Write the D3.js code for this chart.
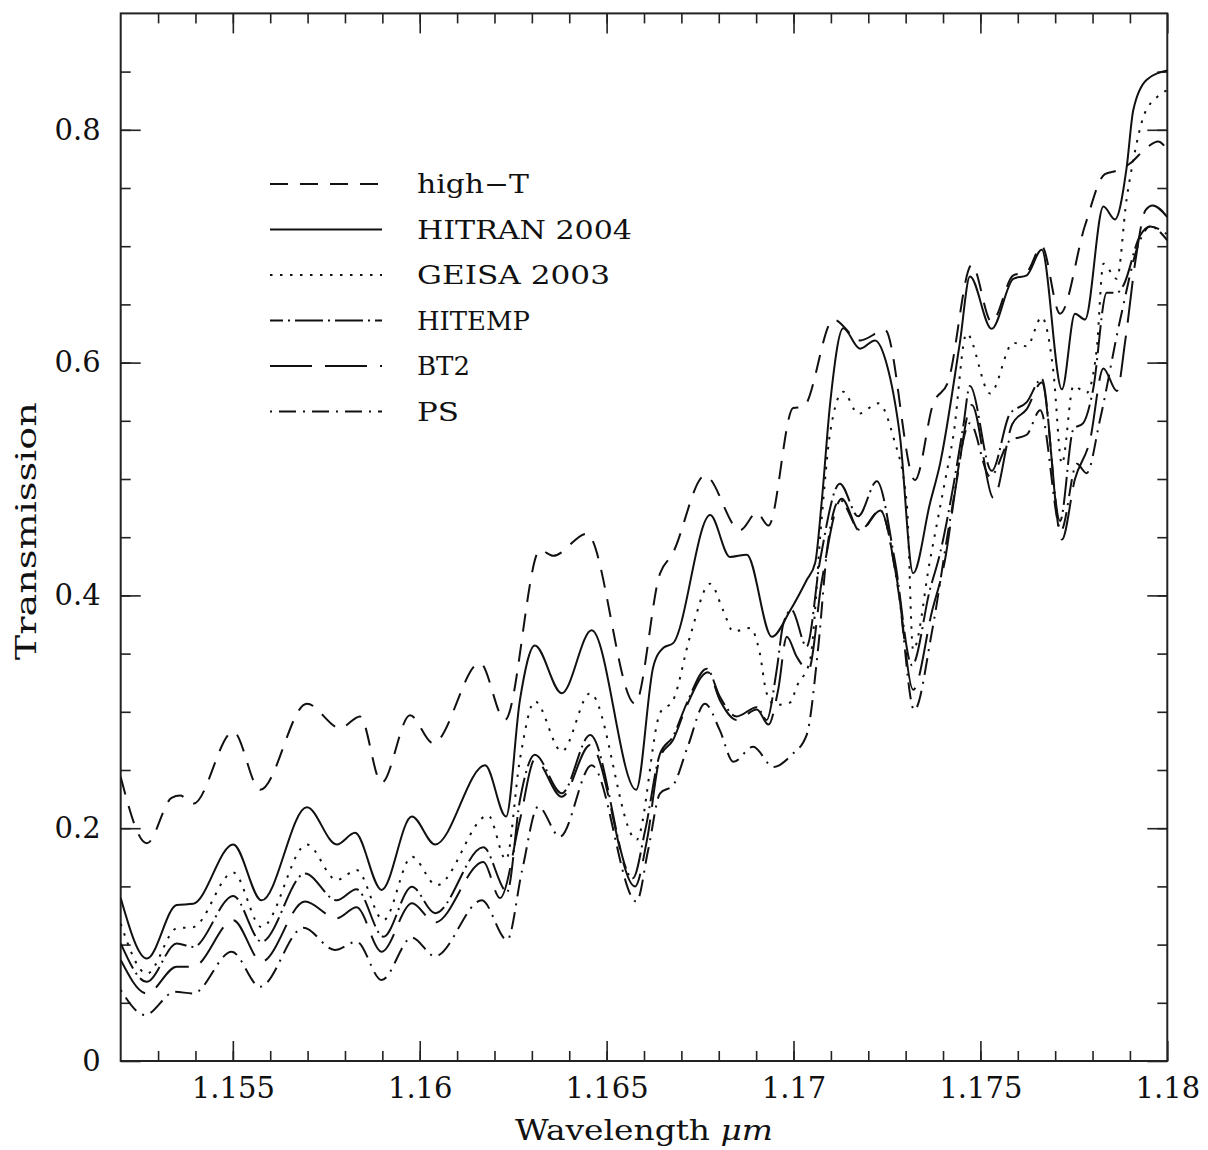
<!DOCTYPE html>
<html>
<head>
<meta charset="utf-8">
<script src="https://cdn.jsdelivr.net/npm/d3@7/dist/d3.min.js"></script>
<style>
  body { margin: 0; background: #fff; }
  text { font-family: "DejaVu Serif", serif; fill: #111; }
</style>
</head>
<body>
<svg id="chart" width="1208" height="1150"></svg>
<script>
// values: [wavelength (um), transmission]
const highT = [
  [1.15200, 0.244], [1.15270, 0.187], [1.15336, 0.226], [1.15359, 0.228], [1.15394, 0.221],
  [1.15501, 0.283], [1.15573, 0.233], [1.15698, 0.307], [1.15787, 0.286], [1.15840, 0.296],
  [1.15898, 0.239], [1.15974, 0.297], [1.16036, 0.273], [1.16161, 0.342], [1.16228, 0.293],
  [1.16322, 0.439], [1.16357, 0.434], [1.16447, 0.453], [1.16576, 0.307], [1.16643, 0.419],
  [1.16675, 0.435], [1.16763, 0.503], [1.16857, 0.456], [1.16902, 0.471], [1.16933, 0.460],
  [1.16999, 0.561], [1.17026, 0.562], [1.17107, 0.637], [1.17178, 0.619], [1.17245, 0.628],
  [1.17325, 0.499], [1.17374, 0.565], [1.17413, 0.583], [1.17477, 0.684], [1.17530, 0.635],
  [1.17588, 0.675], [1.17624, 0.678], [1.17664, 0.700], [1.17713, 0.642], [1.17780, 0.718],
  [1.17833, 0.762], [1.17866, 0.765], [1.17900, 0.771], [1.17946, 0.785], [1.17975, 0.790],
  [1.18000, 0.783]
];

const hitran = [
  [1.15200, 0.140], [1.15270, 0.088], [1.15350, 0.134], [1.15394, 0.135], [1.15501, 0.186],
  [1.15577, 0.138], [1.15698, 0.218], [1.15778, 0.186], [1.15827, 0.196], [1.15898, 0.147],
  [1.15979, 0.210], [1.16041, 0.186], [1.16175, 0.254], [1.16231, 0.210], [1.16268, 0.310],
  [1.16308, 0.357], [1.16380, 0.316], [1.16460, 0.370], [1.16579, 0.233], [1.16625, 0.339],
  [1.16652, 0.355], [1.16678, 0.359], [1.16777, 0.469], [1.16830, 0.433], [1.16875, 0.435],
  [1.16942, 0.3645], [1.16991, 0.387], [1.17035, 0.413], [1.17058, 0.428], [1.17075, 0.479],
  [1.17098, 0.565], [1.17133, 0.6295], [1.17178, 0.612], [1.17218, 0.619], [1.17249, 0.599],
  [1.17285, 0.536], [1.17320, 0.419], [1.17365, 0.479], [1.17392, 0.513], [1.17445, 0.617],
  [1.17472, 0.674], [1.17530, 0.629], [1.17588, 0.672], [1.17624, 0.675], [1.17664, 0.697],
  [1.17718, 0.577], [1.17753, 0.642], [1.17780, 0.637], [1.17829, 0.734], [1.17860, 0.723],
  [1.17891, 0.767], [1.17909, 0.817], [1.17945, 0.843], [1.18000, 0.851]
];

const geisa = [
  [1.15200, 0.118], [1.15270, 0.075], [1.15350, 0.114], [1.15394, 0.115], [1.15501, 0.162],
  [1.15577, 0.115], [1.15698, 0.186], [1.15778, 0.1555], [1.15831, 0.164], [1.15903, 0.121],
  [1.15979, 0.1755], [1.16045, 0.151], [1.16183, 0.211], [1.16231, 0.173], [1.16268, 0.259],
  [1.16308, 0.309], [1.16380, 0.266], [1.16456, 0.316], [1.16580, 0.190], [1.16643, 0.299],
  [1.16678, 0.310], [1.16723, 0.3645], [1.16777, 0.410], [1.16812, 0.387], [1.16839, 0.369],
  [1.16884, 0.372], [1.16910, 0.350], [1.16928, 0.316], [1.16951, 0.306], [1.16991, 0.308],
  [1.17009, 0.322], [1.17044, 0.344], [1.17075, 0.465], [1.17098, 0.540], [1.17133, 0.575],
  [1.17173, 0.556], [1.17227, 0.565], [1.17267, 0.536], [1.17303, 0.479], [1.17320, 0.353],
  [1.17365, 0.430], [1.17401, 0.491], [1.17428, 0.538], [1.17463, 0.625], [1.17526, 0.5735],
  [1.17588, 0.617], [1.17624, 0.614], [1.17664, 0.639], [1.17695, 0.593], [1.17718, 0.513],
  [1.17749, 0.580], [1.17784, 0.574], [1.17811, 0.611], [1.17829, 0.685], [1.17865, 0.672],
  [1.17891, 0.740], [1.17909, 0.774], [1.17936, 0.811], [1.17972, 0.828], [1.18000, 0.834]
];

const hitemp = [
  [1.15200, 0.101], [1.15270, 0.068], [1.15350, 0.101], [1.15394, 0.098], [1.15501, 0.1418],
  [1.15577, 0.1025], [1.15693, 0.161], [1.15778, 0.138], [1.15831, 0.1475], [1.15903, 0.1068],
  [1.15979, 0.1497], [1.16041, 0.127], [1.16170, 0.1836], [1.16234, 0.1455], [1.16268, 0.224],
  [1.16308, 0.263], [1.16380, 0.230], [1.16456, 0.280], [1.16570, 0.157], [1.16603, 0.198],
  [1.16643, 0.264], [1.16678, 0.279], [1.16714, 0.307], [1.16768, 0.337], [1.16803, 0.313],
  [1.16848, 0.296], [1.16902, 0.304], [1.16928, 0.293], [1.16955, 0.336], [1.16973, 0.376],
  [1.16995, 0.3875], [1.17035, 0.356], [1.17071, 0.430], [1.17124, 0.496], [1.17173, 0.468],
  [1.17223, 0.498], [1.17271, 0.430], [1.17317, 0.340], [1.17365, 0.405], [1.17392, 0.436],
  [1.17427, 0.493], [1.17454, 0.545], [1.17472, 0.580], [1.17530, 0.507], [1.17579, 0.556],
  [1.17624, 0.566], [1.17664, 0.586], [1.17713, 0.464], [1.17749, 0.543], [1.17775, 0.548],
  [1.17801, 0.576], [1.17838, 0.660], [1.17865, 0.660], [1.17882, 0.666], [1.17927, 0.709],
  [1.17954, 0.717], [1.18000, 0.705]
];

const bt2 = [
  [1.15200, 0.0868], [1.15270, 0.058], [1.15350, 0.081], [1.15394, 0.081], [1.15501, 0.121],
  [1.15577, 0.0853], [1.15693, 0.137], [1.15778, 0.1226], [1.15831, 0.132], [1.15898, 0.0939],
  [1.15979, 0.1355], [1.16041, 0.119], [1.16170, 0.171], [1.16215, 0.140], [1.16268, 0.207],
  [1.16308, 0.259], [1.16380, 0.227], [1.16456, 0.2715], [1.16576, 0.150], [1.16608, 0.190],
  [1.16643, 0.261], [1.16678, 0.276], [1.16714, 0.305], [1.16771, 0.334], [1.16803, 0.310],
  [1.16848, 0.293], [1.16902, 0.302], [1.16933, 0.289], [1.16959, 0.319], [1.16982, 0.3645],
  [1.17009, 0.347], [1.17040, 0.336], [1.17076, 0.413], [1.17129, 0.483], [1.17178, 0.455],
  [1.17232, 0.473], [1.17277, 0.413], [1.17320, 0.319], [1.17371, 0.387], [1.17405, 0.430],
  [1.17437, 0.499], [1.17477, 0.5636], [1.17535, 0.4837], [1.17585, 0.547], [1.17624, 0.560],
  [1.17664, 0.583], [1.17718, 0.448], [1.17753, 0.500], [1.17793, 0.533], [1.17829, 0.595],
  [1.17865, 0.5756], [1.17888, 0.620], [1.17915, 0.688], [1.17942, 0.731], [1.17961, 0.735],
  [1.18000, 0.725]
];

const ps = [
  [1.15200, 0.061], [1.15265, 0.0395], [1.15345, 0.0595], [1.15394, 0.058], [1.15497, 0.0939],
  [1.15573, 0.0638], [1.15689, 0.1145], [1.15773, 0.0954], [1.15831, 0.1025], [1.15898, 0.0696],
  [1.15979, 0.106], [1.16041, 0.090], [1.16166, 0.138], [1.16234, 0.104], [1.16274, 0.164],
  [1.16317, 0.2185], [1.16375, 0.1927], [1.16460, 0.254], [1.16580, 0.137], [1.16611, 0.181],
  [1.16643, 0.230], [1.16678, 0.237], [1.16718, 0.271], [1.16763, 0.307], [1.16803, 0.284],
  [1.16839, 0.257], [1.16892, 0.270], [1.16946, 0.2526], [1.16995, 0.263], [1.17035, 0.280],
  [1.17066, 0.355], [1.17092, 0.445], [1.17124, 0.482], [1.17178, 0.456], [1.17232, 0.473],
  [1.17280, 0.405], [1.17323, 0.3015], [1.17371, 0.370], [1.17419, 0.465], [1.17472, 0.548],
  [1.17526, 0.502], [1.17579, 0.533], [1.17624, 0.538], [1.17660, 0.559], [1.17716, 0.456],
  [1.17758, 0.513], [1.17784, 0.505], [1.17820, 0.551], [1.17874, 0.637], [1.17927, 0.705],
  [1.17954, 0.717], [1.18000, 0.710]
];

const seriesNames = ['high\u2212T', 'HITRAN 2004', 'GEISA 2003', 'HITEMP', 'BT2', 'PS'];
const seriesDash = ['18,12', null, '2.5,7.5', '28,5,2,5', '42,13', '2,7,17,7'];
const legendDashOffset = [0, 0, 0, 15, 0, 0];
const xMajorTicks = [1.155, 1.16, 1.165, 1.17, 1.175, 1.18];
const xTickLabels = ['1.155', '1.16', '1.165', '1.17', '1.175', '1.18'];
const yMajorTicks = [0, 0.2, 0.4, 0.6, 0.8];
const yTickLabels = ['0', '0.2', '0.4', '0.6', '0.8'];

const allSeries = [highT, hitran, geisa, hitemp, bt2, ps];

const plotL = 120.7, plotR = 1167.3, plotT = 13.4, plotB = 1061;
const svg = d3.select('#chart');

const x = d3.scaleLinear().domain([1.152, 1.18]).range([plotL, plotR]);
const y = d3.scaleLinear().domain([0, 0.9]).range([plotB, plotT]);

const xMinor = d3.range(1153, 1180).map(d => d / 1000);
const yMinor = d3.range(1, 18).map(d => d * 0.05);

svg.append('clipPath').attr('id', 'plot-clip')
  .append('rect')
  .attr('x', plotL).attr('y', plotT)
  .attr('width', plotR - plotL).attr('height', plotB - plotT);

// axes: ticks point inwards on all four sides
function styleAxis(g) {
  g.select('.domain').remove();
  g.selectAll('line').attr('stroke', '#222').attr('stroke-width', 1.6);
  g.selectAll('text').style('font-size', '29px').attr('fill', '#111');
}

svg.append('g').attr('transform', `translate(0,${plotB})`)
  .call(d3.axisBottom(x).tickValues(xMinor).tickSize(-10).tickFormat(''))
  .call(styleAxis);
svg.append('g').attr('transform', `translate(0,${plotB})`)
  .call(d3.axisBottom(x).tickValues(xMajorTicks).tickSize(-20).tickPadding(16)
    .tickFormat((d, i) => xTickLabels[i]))
  .call(styleAxis);
svg.append('g').attr('transform', `translate(0,${plotT})`)
  .call(d3.axisTop(x).tickValues(xMinor).tickSize(-10).tickFormat(''))
  .call(styleAxis);
svg.append('g').attr('transform', `translate(0,${plotT})`)
  .call(d3.axisTop(x).tickValues(xMajorTicks).tickSize(-20).tickFormat(''))
  .call(styleAxis);

svg.append('g').attr('transform', `translate(${plotL},0)`)
  .call(d3.axisLeft(y).tickValues(yMinor).tickSize(-10).tickFormat(''))
  .call(styleAxis);
svg.append('g').attr('transform', `translate(${plotL},0)`)
  .call(d3.axisLeft(y).tickValues(yMajorTicks).tickSize(-20).tickPadding(20)
    .tickFormat((d, i) => yTickLabels[i]))
  .call(styleAxis);
svg.append('g').attr('transform', `translate(${plotR},0)`)
  .call(d3.axisRight(y).tickValues(yMinor).tickSize(-10).tickFormat(''))
  .call(styleAxis);
svg.append('g').attr('transform', `translate(${plotR},0)`)
  .call(d3.axisRight(y).tickValues(yMajorTicks).tickSize(-20).tickFormat(''))
  .call(styleAxis);

svg.append('rect')
  .attr('x', plotL).attr('y', plotT)
  .attr('width', plotR - plotL).attr('height', plotB - plotT)
  .attr('fill', 'none').attr('stroke', '#222').attr('stroke-width', 2);

// curves
const line = d3.line()
  .x(d => x(d[0]))
  .y(d => y(d[1]))
  .curve(d3.curveMonotoneX);

svg.append('g').attr('clip-path', 'url(#plot-clip)')
  .selectAll('path')
  .data(allSeries)
  .enter()
    .append('path')
    .attr('d', line)
    .attr('fill', 'none')
    .attr('stroke', '#111')
    .attr('stroke-width', 2)
    .attr('stroke-dasharray', (d, i) => seriesDash[i]);

// legend
const legendTop = 184, legendStep = 45.5;
const legendWidths = [112, 215, 193, 113, 53, 42];
const legend = svg.append('g');
seriesNames.forEach((name, i) => {
  const ly = legendTop + i * legendStep;
  legend.append('line')
    .attr('x1', 270).attr('x2', 382)
    .attr('y1', ly).attr('y2', ly)
    .attr('stroke', '#111').attr('stroke-width', 2)
    .attr('stroke-dasharray', seriesDash[i])
    .attr('stroke-dashoffset', legendDashOffset[i]);
  legend.append('text')
    .attr('x', 417).attr('y', ly + 9)
    .attr('textLength', legendWidths[i])
    .attr('lengthAdjust', 'spacingAndGlyphs')
    .style('font-size', '26px')
    .text(name);
});

// axis titles
svg.append('text')
  .attr('transform', `translate(36,${(plotT + plotB) / 2 - 6}) rotate(-90)`)
  .attr('text-anchor', 'middle')
  .attr('textLength', 258)
  .attr('lengthAdjust', 'spacingAndGlyphs')
  .style('font-size', '28px')
  .text('Transmission');

const xt = svg.append('text')
  .attr('x', (plotL + plotR) / 2).attr('y', 1140)
  .attr('text-anchor', 'middle')
  .attr('textLength', 258)
  .attr('lengthAdjust', 'spacingAndGlyphs')
  .style('font-size', '28px');
xt.append('tspan').text('Wavelength ');
xt.append('tspan').style('font-style', 'italic').text('\u03bcm');
</script>
</body>
</html>
